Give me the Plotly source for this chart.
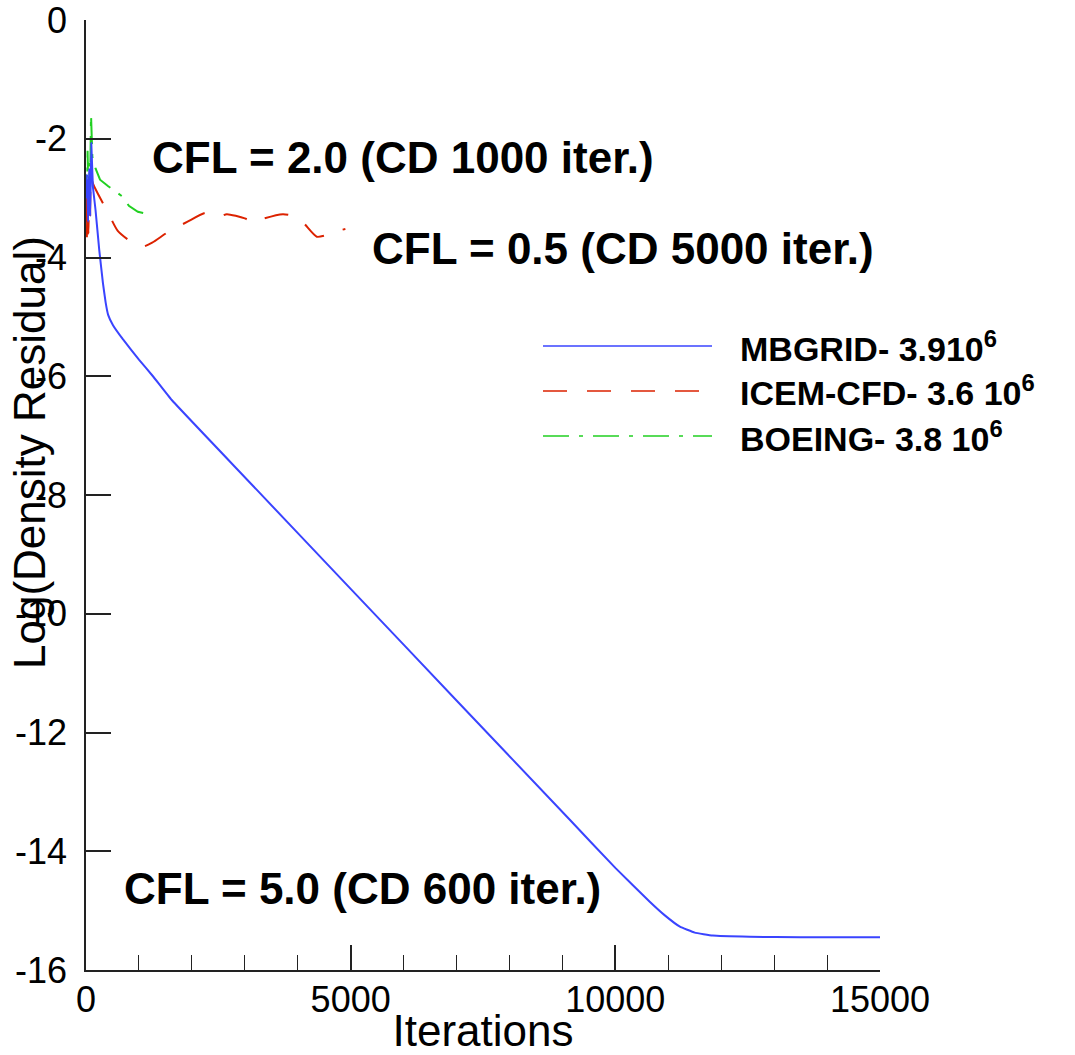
import plotly.graph_objects as go

# ---- data ----
mbgrid_x = [0, 20, 40, 60, 80, 100, 130, 180, 250, 320, 370, 420, 510, 700, 1000, 1265, 1620,
            3000, 5000, 7000, 9140, 10000, 10650, 10935, 11220, 11500, 11840, 12540, 13500, 15000]
mbgrid_y = [-3.0, -2.6, -3.4, -2.5, -3.3, -2.07, -2.8, -3.2, -3.87, -4.43, -4.75, -4.97, -5.14,
            -5.38, -5.72, -6.0, -6.4, -7.70, -9.58, -11.46, -13.47, -14.28, -14.85, -15.08,
            -15.27, -15.37, -15.42, -15.44, -15.45, -15.45]

icem_x = [0, 15, 30, 45, 60, 75, 95, 130, 210, 420, 600, 890, 1060, 1250, 1550, 1910, 2250, 2400,
          2530, 2660, 3000, 3190, 3340, 3720, 3910, 4100, 4360, 4550, 4760, 4900]
icem_y = [-3.0, -3.7, -2.8, -3.6, -2.9, -3.4, -2.64, -2.75, -2.9, -3.25, -3.55, -3.76, -3.82, -3.75,
          -3.57, -3.40, -3.25, -3.27, -3.31, -3.27, -3.34, -3.42, -3.35, -3.27, -3.30, -3.41,
          -3.65, -3.62, -3.55, -3.52]

boeing_x = [0, 15, 30, 45, 60, 75, 95, 120, 180, 265, 420, 700, 810, 980, 1080]
boeing_y = [-2.6, -3.3, -2.2, -3.0, -2.4, -2.9, -1.60, -2.3, -2.5, -2.69, -2.80, -2.98, -3.13,
            -3.23, -3.25]

series_names = ["<b>MBGRID- 3.910<sup>6</sup></b>",
                "<b>ICEM-CFD- 3.6 10<sup>6</sup></b>",
                "<b>BOEING- 3.8 10<sup>6</sup></b>"]
x_ticks = [0, 5000, 10000, 15000]
y_ticks = [0, -2, -4, -6, -8, -10, -12, -14, -16]

BLUE = "#3a44ff"
RED = "#dc2200"
GREEN = "#22d022"
dashes = ["solid", "24px,20px", "26px,10px,4px,10px"]
colors = [BLUE, RED, GREEN]
FONT = "Liberation Sans, Arial, sans-serif"

fig = go.Figure()
fig.add_trace(go.Scatter(x=boeing_x, y=boeing_y, mode="lines",
                         line=dict(color=GREEN, width=2, dash=dashes[2]), showlegend=False))
fig.add_trace(go.Scatter(x=icem_x, y=icem_y, mode="lines",
                         line=dict(color=RED, width=2, dash=dashes[1], shape="spline", smoothing=0.6),
                         showlegend=False))
fig.add_trace(go.Scatter(x=mbgrid_x, y=mbgrid_y, mode="lines",
                         line=dict(color=BLUE, width=2, shape="spline", smoothing=0.3),
                         showlegend=False))

W, H = 1075, 1055
L, R, T, B = 86, 195, 20, 85
pw, ph = W - L - R, H - T - B

def px2paper(px, py):
    return (px - L) / pw, 1 - (py - T) / ph

# custom legend
rows_y = [346, 391, 436]
for i in range(3):
    x0, yy = px2paper(543, rows_y[i])
    x1, _ = px2paper(712, rows_y[i])
    fig.add_shape(type="line", xref="paper", yref="paper", x0=x0, x1=x1, y0=yy, y1=yy,
                  line=dict(color=colors[i], width=1.5, dash=dashes[i]))
    tx, _ = px2paper(738, rows_y[i])
    fig.add_annotation(xref="paper", yref="paper", x=tx, y=yy, text=series_names[i],
                       showarrow=False, xanchor="left", yanchor="middle",
                       font=dict(family=FONT, size=34, color="black"))

# CFL labels (data coordinates)
cfl_labels = [("<b>CFL = 2.0 (CD 1000 iter.)</b>", 1209, -2.32),
              ("<b>CFL = 0.5 (CD 5000 iter.)</b>", 5365, -3.84),
              ("<b>CFL = 5.0 (CD 600 iter.)</b>", 680, -14.62)]
for txt, xx, yy in cfl_labels:
    fig.add_annotation(x=xx, y=yy, text=txt, showarrow=False, xanchor="left", yanchor="middle",
                       font=dict(family=FONT, size=44, color="black"))

# y-axis title
tx, ty = px2paper(29, 453)
fig.add_annotation(xref="paper", yref="paper", x=tx, y=ty, text="Log(Density Residual)",
                   textangle=-90, showarrow=False, xanchor="center", yanchor="middle",
                   font=dict(family=FONT, size=44, color="black"))

fig.update_layout(
    width=W, height=H,
    margin=dict(l=L, r=R, t=T, b=B, autoexpand=False),
    paper_bgcolor="white", plot_bgcolor="white",
    font=dict(family=FONT, color="black"),
    showlegend=False,
    xaxis=dict(range=[0, 15000], tickvals=x_ticks, ticktext=[str(v) for v in x_ticks],
               ticks="inside", ticklen=25, tickwidth=1.5, tickcolor="#222",
               showline=True, linecolor="#222", linewidth=1.5, mirror=False,
               showgrid=False, zeroline=False, automargin=True,
               tickfont=dict(family=FONT, size=36, color="black"),
               ticklabelstandoff=-3, ticklabeloverflow="allow",
               minor=dict(dtick=1000, ticks="inside", ticklen=15, tickwidth=1.2,
                          tickcolor="#222", showgrid=False),
               title=dict(text="Iterations", font=dict(family=FONT, size=44, color="black"),
                          standoff=0)),
    yaxis=dict(range=[-16, 0.0005], tickvals=y_ticks, ticktext=[str(v) for v in y_ticks],
               ticks="inside", ticklen=25, tickwidth=1.5, tickcolor="#222",
               showline=True, linecolor="#222", linewidth=1.5, mirror=False,
               showgrid=False, zeroline=False, automargin=True,
               tickfont=dict(family=FONT, size=36, color="black"),
               ticklabelstandoff=10, ticklabeloverflow="allow"),
)

fig.write_html("out.html")
